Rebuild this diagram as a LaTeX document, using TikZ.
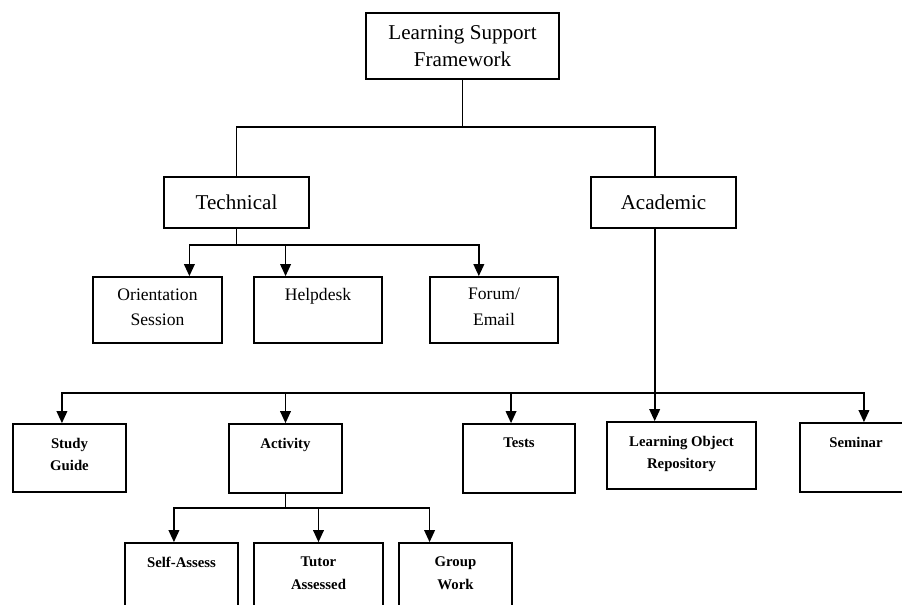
\documentclass[tikz,border=0pt]{standalone}
\usepackage{fontspec}
\setmainfont{Liberation Serif}
\usetikzlibrary{positioning,arrows.meta,calc}
\tikzset{
  box/.style={draw, line width=1.2pt, inner sep=0pt},
  lnk/.style={line width=1.2pt},
  arr/.style={-{Triangle[width=7.5pt,length=8.5pt]}, line width=1.2pt},
  midtxt/.style={font=\fontsize{12.5}{18}\selectfont, align=center, anchor=north, inner sep=0pt},
  lowtxt/.style={font=\fontsize{10.5}{16}\selectfont\bfseries, align=center, anchor=north, inner sep=0pt}
}

\begin{document}
\begin{tikzpicture}[x=0.025cm,y=-0.025cm]
\useasboundingbox (0,0) rectangle (902,605);
\clip (0,0) rectangle (902,605);
% root
\node[box, minimum width=4.825cm, minimum height=1.65cm, align=center, font=\fontsize{15}{19}\selectfont] (lsf) at (462.5,46) {Learning Support\\Framework};
% level 1
\node[box, minimum width=3.625cm, minimum height=1.275cm, font=\fontsize{15}{19}\selectfont] (tech) at (236.5,202.5) {Technical};
\node[box, minimum width=3.625cm, minimum height=1.275cm, font=\fontsize{15}{19}\selectfont] (acad) at (663.5,202.5) {Academic};
\coordinate (j1) at (lsf.south |- 0,127);
\coordinate (aStem) at ($(acad.south west)!.44!(acad.south east)$);
\draw[lnk] (lsf.south) -- (j1);
\draw[lnk] (tech.north) |- (j1) -| (aStem |- acad.north);
% technical support
\node[box, minimum width=3.225cm, minimum height=1.65cm] (orient) at (157.5,310) {};
\node[box, minimum width=3.2cm, minimum height=1.65cm] (help) at (318,310) {};
\node[box, minimum width=3.2cm, minimum height=1.65cm] (forum) at (494,310) {};
\node[midtxt] (orientT) at ([yshift=-8.5pt]orient.north) {Orientation\\Session};
\node[midtxt] (helpT) at ([yshift=-8.5pt]help.north) {Helpdesk};
\node[midtxt] (forumT) at ([yshift=-8.5pt]forum.north) {Forum/\\Email};
\draw[lnk] (tech.south) -- ++(0,16) coordinate (tb);
\draw[arr] (tb) -| ($(orient.north west)!.744!(orient.north east)$);
\draw[arr] (tb) -| ($(help.north west)!.25!(help.north east)$);
\draw[arr] (tb) -| ($(forum.north west)!.383!(forum.north east)$);
% academic support
\node[box, minimum width=2.825cm, minimum height=1.7cm] (sg) at (69.5,458) {};
\node[box, minimum width=2.825cm, minimum height=1.725cm] (act) at (285.5,458.5) {};
\node[box, minimum width=2.8cm, minimum height=1.725cm] (tests) at (519,458.5) {};
\node[box, minimum width=3.725cm, minimum height=1.675cm] (lor) at (681.5,455.5) {};
\node[box, minimum width=2.8cm, minimum height=1.725cm] (sem) at (856,457.5) {};
\node[lowtxt] (sgT) at ([yshift=-10.5pt]sg.north) {Study\\Guide};
\node[lowtxt] (actT) at ([yshift=-10.5pt]act.north) {Activity};
\node[lowtxt] (testsT) at ([yshift=-10.5pt]tests.north) {Tests};
\node[lowtxt] (lorT) at ([yshift=-10.5pt]lor.north) {Learning Object\\Repository};
\node[lowtxt] (semT) at ([yshift=-10.5pt]sem.north) {Seminar};
\draw[arr] (aStem) -- (aStem |- lor.north);
\coordinate (ab) at (aStem |- 0,393);
\draw[arr] (ab) -| ($(sg.north west)!.434!(sg.north east)$);
\draw[arr] (ab) -| (act.north);
\draw[arr] (ab) -| ($(tests.north west)!.43!(tests.north east)$);
\draw[arr] (ab) -| ($(sem.north west)!.57!(sem.north east)$);
% activity types
\node[box, minimum width=2.825cm, minimum height=1.7cm] (sa) at (181.5,577) {};
\node[box, minimum width=3.225cm, minimum height=1.7cm] (ta) at (318.5,577) {};
\node[box, minimum width=2.825cm, minimum height=1.7cm] (gw) at (455.5,577) {};
\node[lowtxt] (saT) at ([yshift=-10.5pt]sa.north) {Self-Assess};
\node[lowtxt] (taT) at ([yshift=-10.5pt]ta.north) {Tutor\\Assessed};
\node[lowtxt] (gwT) at ([yshift=-10.5pt]gw.north) {Group\\Work};
\draw[lnk] (act.south) -- ++(0,14) coordinate (acb);
\draw[arr] (acb) -| ($(sa.north west)!.434!(sa.north east)$);
\draw[arr] (acb) -| (ta.north);
\draw[arr] (acb) -| ($(gw.north west)!.274!(gw.north east)$);
\end{tikzpicture}
\end{document}
